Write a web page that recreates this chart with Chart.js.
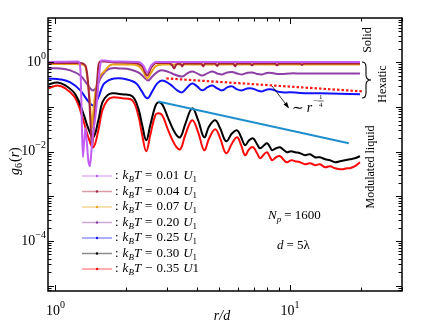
<!DOCTYPE html>
<html><head><meta charset="utf-8">
<script src="https://cdn.jsdelivr.net/npm/chart.js@4/dist/chart.umd.min.js"></script>
<style>html,body{margin:0;padding:0;background:#fff}#w{width:434px;height:326px}</style>
</head><body><div id="w"><canvas id="c" width="434" height="326"></canvas></div>
<script>
// ---- data (r/d , g6) ----
const seriesTemps = ["0.01","0.04","0.07","0.20","0.25","0.30","0.35"];
const seriesColors = ["#c25cf2","#a3243c","#e8a317","#8e3fa6","#1212ff","#000000","#ff0a0a"];

const r001 = [0.934,1.253,1.277,1.290,1.309,1.329,1.342,1.355,1.381,1.402,1.423,1.451,1.480,1.509,1.524,1.554,1.569,1.631,1.748,2.255,2.368,2.463,2.562,2.689,4.14,19.86];
const g001 = [1.026,1.053,0.734,0.1415,0.00753,0.0200,0.0335,0.0222,0.00646,0.00474,0.00975,0.0302,0.059,0.165,0.322,0.902,1.108,1.108,1.053,1.026,0.857,0.598,0.857,1.026,1.026,1.026];

const r004 = [0.934,1.277,1.342,1.368,1.395,1.416,1.433,1.451,1.480,1.509,1.524,1.554,1.616,1.800,2.190,2.345,2.463,2.562,2.689,3.056,3.146,3.209,3.273,3.403,3.470,3.539,4.181,4.264,4.349,4.797,4.891,4.987,5.721,5.834,5.950,6.758,6.891,7.027,8.635,8.806,8.978,11.03,11.25,11.47,19.86];
const g004 = [0.975,0.975,0.857,0.512,0.1415,0.0302,0.0126,0.0234,0.1094,0.439,0.814,1.053,1.053,1.0,0.975,0.814,0.512,0.773,0.975,0.975,0.857,0.734,0.902,0.95,0.814,0.95,0.95,0.814,0.95,0.95,0.835,0.95,0.95,0.814,0.95,0.95,0.857,0.95,0.95,0.857,0.95,0.95,0.879,0.95,0.95];

const r007 = [0.934,1.216,1.303,1.342,1.368,1.395,1.416,1.433,1.451,1.480,1.509,1.554,1.616,1.681,1.748,2.085,2.255,2.368,2.463,2.562,2.664,2.853,4.14,6.758,11.03,19.86];
const g007 = [0.926,0.926,0.902,0.814,0.462,0.183,0.0654,0.0335,0.0763,0.214,0.357,0.512,0.629,0.814,0.902,0.902,0.835,0.629,0.439,0.598,0.814,0.902,0.902,0.902,0.902,0.902];

const r020 = [0.934,1.050,1.158,1.277,1.368,1.437,1.495,1.554,1.631,1.714,1.891,2.085,2.255,2.368,2.487,2.612,2.798,2.997,3.209,3.470,3.645,3.828,4.020,4.222,4.435,4.657,4.891,5.137,5.395,5.665,5.950,6.248,6.561,6.891,7.237,7.601,7.983,8.384,8.806,9.247,10.0,11.03,13.42,16.33,19.86];
const g020 = [0.734,0.734,0.663,0.512,0.322,0.237,0.276,0.439,0.629,0.734,0.734,0.698,0.598,0.486,0.396,0.512,0.663,0.629,0.539,0.486,0.568,0.629,0.568,0.512,0.568,0.629,0.568,0.539,0.598,0.613,0.568,0.539,0.583,0.598,0.553,0.539,0.583,0.583,0.553,0.553,0.568,0.568,0.568,0.568,0.568];

const r025 = [0.934,1.050,1.158,1.277,1.381,1.451,1.524,1.601,1.681,1.782,1.928,2.085,2.212,2.322,2.463,2.587,2.717,2.853,3.085,3.305,3.470,3.645,3.828,4.020,4.222,4.435,4.657,4.891,5.137,5.395,5.665,5.950,6.248,6.561,6.891,7.237,7.601,7.983,8.384,8.806,9.247,10.0,11.03,13.42,16.33,19.86];
const g025 = [0.439,0.417,0.357,0.237,0.1344,0.1094,0.165,0.322,0.396,0.439,0.439,0.396,0.339,0.237,0.157,0.225,0.339,0.396,0.322,0.237,0.214,0.276,0.339,0.291,0.237,0.276,0.306,0.262,0.237,0.276,0.291,0.249,0.237,0.262,0.262,0.237,0.225,0.249,0.249,0.225,0.214,0.214,0.208,0.203,0.198,0.193];

const r030 = [0.934,1.020,1.103,1.216,1.315,1.381,1.451,1.524,1.585,1.664,1.748,1.928,2.127,2.255,2.345,2.439,2.536,2.664,2.744,2.853,3.026,3.241,3.403,3.574,3.828,4.060,4.306,4.522,4.797,5.037,5.342,5.665,5.950,6.187,6.434,6.692,6.959,7.237,7.454,7.751,7.983,8.222,8.384,8.718,9.066,9.430,9.710,10.10,10.50,11.03,11.58,12.16,12.78,13.42,14.09,14.80,15.54,16.33,17.14,18.00,18.91,19.86];
const g030 = [0.322,0.357,0.306,0.193,0.0725,0.0335,0.0211,0.0506,0.1277,0.183,0.203,0.193,0.174,0.0938,0.0391,0.0181,0.0391,0.104,0.1277,0.1152,0.056,0.0259,0.0211,0.0412,0.0938,0.0506,0.0211,0.0371,0.0506,0.0335,0.0172,0.0259,0.0302,0.0211,0.014,0.0181,0.02,0.0147,0.012,0.014,0.0155,0.0126,0.0108,0.012,0.0126,0.0108,0.00975,0.01026,0.00975,0.00926,0.00835,0.0088,0.00753,0.00753,0.0068,0.00646,0.00583,0.00614,0.00646,0.0068,0.00716,0.00793];

const r035 = [0.934,1.020,1.103,1.216,1.315,1.381,1.451,1.524,1.585,1.664,1.748,1.928,2.127,2.255,2.345,2.439,2.536,2.664,2.744,2.853,3.026,3.241,3.403,3.574,3.828,4.060,4.306,4.522,4.797,5.037,5.342,5.665,5.950,6.187,6.434,6.692,6.959,7.237,7.454,7.751,7.983,8.222,8.384,8.718,9.066,9.430,9.710,10.10,10.50,11.03,11.58,12.16,12.78,13.42,14.09,14.80,15.54,16.33,16.81,17.48,18.00,18.91,19.86];
const g035 = [0.262,0.306,0.262,0.157,0.0506,0.0211,0.0126,0.0302,0.0846,0.1415,0.165,0.157,0.1415,0.0654,0.0234,0.01026,0.0234,0.0654,0.0725,0.0654,0.0302,0.014,0.0114,0.0234,0.0506,0.0273,0.0108,0.02,0.0318,0.02,0.00926,0.0155,0.0211,0.014,0.00835,0.0114,0.0126,0.00926,0.00716,0.0088,0.00975,0.00753,0.00646,0.00753,0.00793,0.00646,0.00583,0.00646,0.00614,0.00583,0.00526,0.00553,0.00499,0.00526,0.0045,0.00474,0.00427,0.00406,0.00406,0.00427,0.00427,0.00474,0.00583];

// power-law guide lines
const rFitLiquid = [2.744, 17.8];
const gFitLiquid = [0.134, 0.0155];
const rFitHexatic = [2.97, 20.3];
const gFitHexatic = [0.439, 0.225];

// axes
const xMin = 0.93, xMax = 30, yMin = 7.6e-6, yMax = 9.9;
const xTickVals = [1, 10], xTickExp = ["0","1"];
const yTickVals = [1, 0.01, 0.0001], yTickExp = ["0","-2","-4"];

const zip = (r, g) => r.map((v, i) => ({x: v, y: g[i]}));
const seriesR = [r001, r004, r007, r020, r025, r030, r035];
const seriesG = [g001, g004, g007, g020, g025, g030, g035];
const smoothSeries = [false, false, false, true, true, true, true];

const datasets = [
  {data: zip(rFitLiquid, gFitLiquid), borderColor: "#1f8fcc", borderWidth: 2, pointRadius: 0},
  {data: zip(rFitHexatic, gFitHexatic), borderColor: "#ff1a1a", borderWidth: 2.2, borderDash: [2.5, 2], pointRadius: 0},
];
seriesTemps.forEach((t, i) => {
  const ds = {
    data: zip(seriesR[i], seriesG[i]),
    borderColor: seriesColors[i],
    borderWidth: 2,
    pointRadius: 0
  };
  if (smoothSeries[i]) ds.tension = 0.4; else ds.cubicInterpolationMode = 'monotone';
  datasets.push(ds);
});

const SERIF = '"Liberation Serif","DejaVu Serif",serif';
function txt(ctx, s, x, y, size, italic, align) {
  ctx.font = (italic ? 'italic ' : '') + size + 'px ' + SERIF;
  ctx.textAlign = align || 'left';
  ctx.fillText(s, x, y);
  return ctx.measureText(s).width;
}
function pow10(ctx, exp, x, y, alignRight) {
  ctx.font = '14px ' + SERIF; const wb = ctx.measureText('10').width;
  ctx.font = '10px ' + SERIF; const e = exp.replace('-', '\u2212'); const we = ctx.measureText(e).width;
  let x0 = alignRight ? x - wb - we : x - (wb + we) / 2;
  ctx.textBaseline = 'middle';
  txt(ctx, '10', x0, y, 14, false);
  txt(ctx, e, x0 + wb, y - 6, 10, false);
}

const deco = {
  id: 'deco',
  afterDraw(chart) {
    const {ctx, chartArea: a} = chart;
    const xs = chart.scales.x, ys = chart.scales.y;
    ctx.save();
    ctx.strokeStyle = '#000'; ctx.fillStyle = '#000';
    ctx.lineWidth = 1;
    const ln = (x1, y1, x2, y2) => { ctx.beginPath(); ctx.moveTo(x1, y1); ctx.lineTo(x2, y2); ctx.stroke(); };
    for (let n = -1; n <= 1; n++) for (let k = 1; k <= 9; k++) {
      const v = k * Math.pow(10, n); if (v < xMin || v > xMax) continue;
      const p = Math.round(xs.getPixelForValue(v)) + 0.5, L = k === 1 ? 6 : 3.5;
      ln(p, a.bottom, p, a.bottom - L); ln(p, a.top, p, a.top + L);
    }
    for (let n = -6; n <= 1; n++) for (let k = 1; k <= 9; k++) {
      const v = k * Math.pow(10, n); if (v < yMin || v > yMax) continue;
      const p = Math.round(ys.getPixelForValue(v)) + 0.5, L = k === 1 ? 6 : 3.5;
      ln(a.left, p, a.left + L, p); ln(a.right, p, a.right - L, p);
    }
    ctx.lineWidth = 1.5;
    ctx.strokeRect(a.left, a.top, a.right - a.left, a.bottom - a.top);

    // tick labels
    xTickVals.forEach((v, i) => pow10(ctx, xTickExp[i], xs.getPixelForValue(v), 311, false));
    yTickVals.forEach((v, i) => pow10(ctx, yTickExp[i], 46, ys.getPixelForValue(v), true));

    // axis titles
    ctx.textBaseline = 'middle';
    txt(ctx, 'r/d', 222, 316, 14, true, 'center');
    ctx.save(); ctx.translate(15, 155); ctx.rotate(-Math.PI / 2);
    let xx = -20;
    xx += txt(ctx, 'g', xx, 0, 14, true); xx += txt(ctx, '6', xx, 4, 10, false); xx += 1;
    xx += txt(ctx, '(', xx, 0, 14, false); xx += txt(ctx, 'r', xx, 0, 14, true); txt(ctx, ')', xx, 0, 14, false);
    ctx.restore();

    // legend
    const rowsY = [176, 191.5, 207, 222.5, 238, 253.5, 269];
    seriesTemps.forEach((t, i) => {
      const y = rowsY[i];
      ctx.globalAlpha = 0.45; ctx.strokeStyle = seriesColors[i]; ctx.lineWidth = 1.5;
      ln(82, y, 112, y); ctx.globalAlpha = 1;
      ctx.fillStyle = seriesColors[i]; ctx.beginPath(); ctx.arc(97, y, 1.2, 0, 7); ctx.fill();
      ctx.fillStyle = '#000';
      let x = 115;
      x += txt(ctx, ':', x, y, 13, false) + 4;
      x += txt(ctx, 'k', x, y, 13, true);
      x += txt(ctx, 'B', x, y + 4, 9, true);
      x += txt(ctx, 'T', x, y, 13, true) + 4;
      const last = i === seriesTemps.length - 1;
      x += txt(ctx, last ? '\u2212' : '=', x, y, 13, false) + 4;
      x += txt(ctx, t, x, y, 13, false) + 4;
      x += txt(ctx, 'U', x, y, 13, true);
      if (last) txt(ctx, '1', x, y, 13, false); else txt(ctx, '1', x, y + 4, 9, false);
    });

    // text annotations
    ctx.fillStyle = '#000';
    let nx = 268; const ny = 216;
    nx += txt(ctx, 'N', nx, ny, 13, true); nx += txt(ctx, 'p', nx, ny + 4, 9, true) + 3;
    txt(ctx, '= 1600', nx, ny, 13, false);
    let dx = 277;
    dx += txt(ctx, 'd', dx, 246, 13, true) + 3; txt(ctx, '= 5\u03bb', dx, 246, 13, false);

    const vtext = (s, cx, cy, size) => { ctx.save(); ctx.translate(cx, cy); ctx.rotate(-Math.PI / 2); txt(ctx, s, 0, 0, size, false, 'center'); ctx.restore(); };
    vtext('Solid', 368, 40, 12);
    vtext('Hexatic', 383, 84, 12);
    vtext('Modulated liquid', 371, 167, 12);

    // brace
    ctx.strokeStyle = '#000'; ctx.lineWidth = 1.1;
    ctx.beginPath();
    ctx.moveTo(362, 62); ctx.quadraticCurveTo(366, 62, 366, 67); ctx.lineTo(366, 75);
    ctx.quadraticCurveTo(366, 80, 371, 80); ctx.quadraticCurveTo(366, 80, 366, 85);
    ctx.lineTo(366, 93); ctx.quadraticCurveTo(366, 98, 362, 98); ctx.stroke();

    // arrow to the r^-1/4 line
    ctx.lineWidth = 0.8;
    ln(272, 86, 288, 107);
    ctx.beginPath(); ctx.moveTo(289, 108.5); ctx.lineTo(283.5, 104.5); ctx.lineTo(287, 102); ctx.closePath(); ctx.fill();
    let lx = 292;
    lx += txt(ctx, '\u223c', lx, 108, 14, false) + 3;
    lx += txt(ctx, 'r', lx, 108, 14, true) + 1;
    lx += txt(ctx, '\u2212', lx, 101, 8, false);
    txt(ctx, '1', lx + 3, 97, 7, false, 'center');
    ctx.lineWidth = 0.6; ln(lx, 101, lx + 6, 101);
    txt(ctx, '4', lx + 3, 105.5, 7, false, 'center');
    ctx.restore();
  }
};

new Chart(document.getElementById('c'), {
  type: 'line',
  data: {datasets},
  options: {
    responsive: false, animation: false, devicePixelRatio: 1,
    layout: {padding: {left: 48, right: 32, top: 18, bottom: 35}},
    plugins: {legend: {display: false}, tooltip: {enabled: false}},
    scales: {
      x: {type: 'logarithmic', min: xMin, max: xMax, display: false},
      y: {type: 'logarithmic', min: yMin, max: yMax, display: false}
    }
  },
  plugins: [deco]
});
</script></body></html>
